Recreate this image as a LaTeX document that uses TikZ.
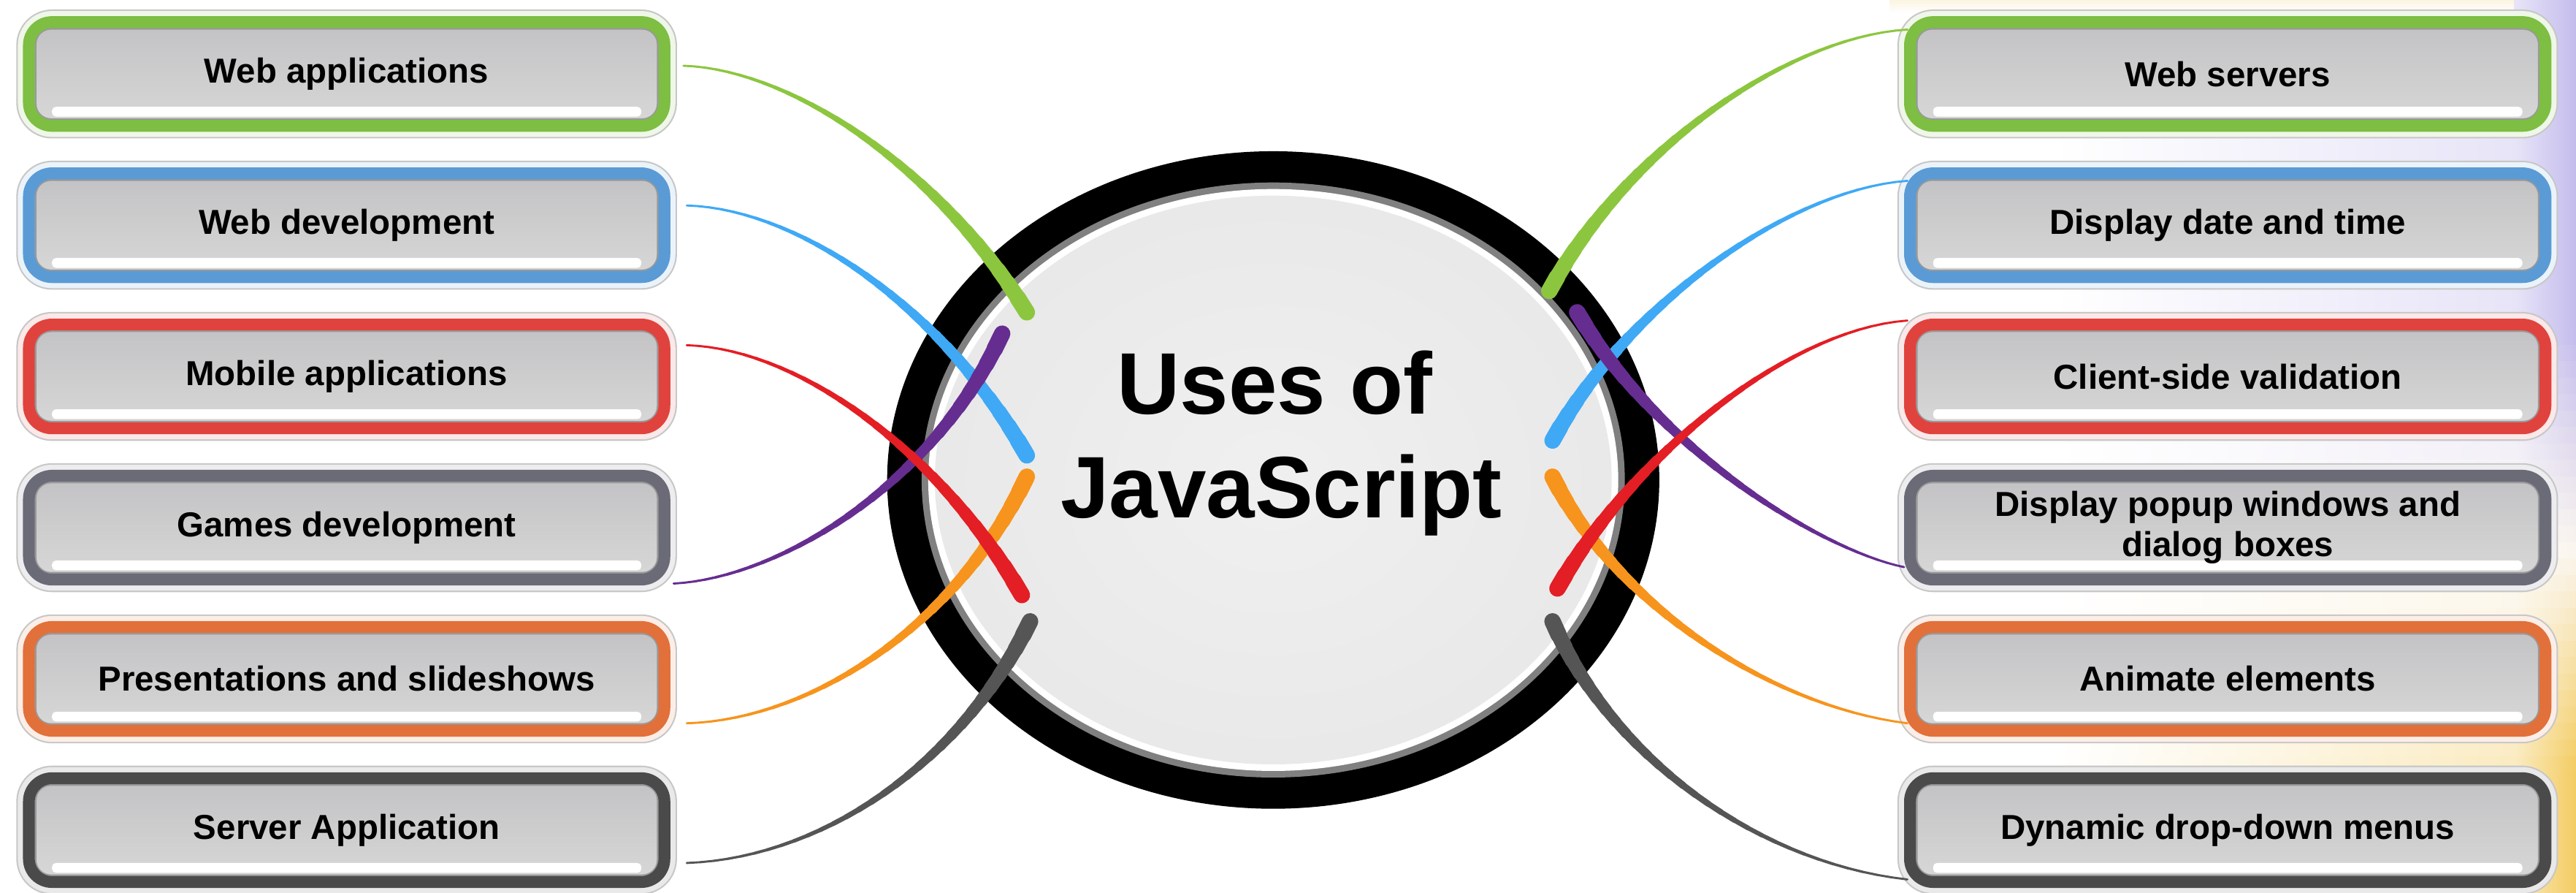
\documentclass[tikz,border=0pt]{standalone}
\usepackage{fontspec}
\setmainfont{Liberation Sans}
\usetikzlibrary{calc}
\definecolor{cgreen}{HTML}{7DBE43}
\definecolor{cblue}{HTML}{5A9BD5}
\definecolor{cred}{HTML}{E0433D}
\definecolor{cslate}{HTML}{6A6B77}
\definecolor{corange}{HTML}{E2703A}
\definecolor{cdark}{HTML}{4A4A4A}
\definecolor{lgreen}{HTML}{8CC63F}
\definecolor{lblue}{HTML}{3FA9F5}
\definecolor{lred}{HTML}{E31E24}
\definecolor{lpurple}{HTML}{662D91}
\definecolor{lorange}{HTML}{F7941D}
\definecolor{ldark}{HTML}{555555}
\definecolor{boxtop}{HTML}{C2C2C4}
\definecolor{boxbot}{HTML}{D8D8D8}
\definecolor{bglav}{RGB}{196,188,236}
\definecolor{bgpale}{RGB}{250,245,238}
\definecolor{bggold}{RGB}{243,204,98}
\newcommand{\boxfont}{\fontsize{13.5}{15.5}\selectfont\bfseries}
\pgfdeclareradialshading{hubshade}{\pgfpoint{0bp}{0bp}}{color(0bp)=(black!6); color(28bp)=(black!9); color(42bp)=(black!18); color(48bp)=(black!30); color(50bp)=(black!38)}
\newcommand{\taperline}[5]{%
  \path #2 .. controls #3 and #4 .. #5
    \foreach \k [evaluate=\k as \pp using \k/30] in {0,...,30}{ coordinate[pos=\pp] (tq\k) };
  \foreach \k [evaluate=\k as \ww using 0.8+5.6*(\k/30)^1.8, evaluate=\k as \km using int(\k-1)] in {1,...,30}{
    \draw[draw=#1, line width=\ww pt, line cap=round] (tq\km) -- (tq\k);
  }%
}
\tikzset{
  ubox/.style={rectangle, rounded corners=9pt, draw=#1, line width=4.6pt,
    minimum width=8.70cm, minimum height=1.42cm, inner sep=0pt,
    top color=boxtop, bottom color=boxbot,
    preaction={draw=black!22, line width=9.8pt},
    preaction={draw=#1!12, line width=8.6pt},
    path picture={
      \fill[white, rounded corners=1.5pt]
        ($(path picture bounding box.south west)+(9pt,3.6pt)$) rectangle
        ($(path picture bounding box.south east)+(-9pt,7.4pt)$);
      \draw[black!40, line width=0.7pt, rounded corners=6pt]
        ($(path picture bounding box.south west)+(2.6pt,2.6pt)$) rectangle
        ($(path picture bounding box.north east)+(-2.6pt,-2.6pt)$);
    },
    font=\boxfont, align=center, text=black},
  hubtext/.style={font=\fontsize{34}{38}\selectfont\bfseries, anchor=base, inner sep=0pt}
}
\begin{document}
\begin{tikzpicture}[x=0.022494cm, y=-0.022494cm]
\useasboundingbox (0,0) rectangle (1568,543);
\clip (0,0) rectangle (1568,543);
\fill[white] (0,0) rectangle (1568,543);
% soft background tint at the right edge
\foreach \i in {0,...,54}{
  \pgfmathsetmacro{\yy}{\i*10}
  \pgfmathtruncatemacro{\pl}{max(0,min(100,(330-\yy)/1.3))}
  \pgfmathtruncatemacro{\pg}{max(0,min(100,(\yy-330)/1.3))}
  \colorlet{bandA}{bglav!\pl!bgpale}
  \colorlet{bandB}{bggold!\pg!bandA}
  \shade[left color=white, right color=bandB!40] (1250,\yy) rectangle (1532,\yy+10.6);
  \shade[left color=bandB!40, right color=bandB] (1531,\yy) rectangle (1568,\yy+10.6);
}
\shade[top color=bgpale!60!bggold!40, bottom color=white] (1150,0) rectangle (1530,8);

% left boxes
\node[ubox=cgreen]  (l1) at (211,45)  {Web applications};
\node[ubox=cblue]   (l2) at (211,137) {Web development};
\node[ubox=cred]    (l3) at (211,229) {Mobile applications};
\node[ubox=cslate]  (l4) at (211,321) {Games development};
\node[ubox=corange] (l5) at (211,413) {Presentations and slideshows};
\node[ubox=cdark]   (l6) at (211,505) {Server Application};
% right boxes
\node[ubox=cgreen]  (r1) at (1356,45)  {Web servers};
\node[ubox=cblue]   (r2) at (1356,137) {Display date and time};
\node[ubox=cred]    (r3) at (1356,229) {Client-side validation};
\node[ubox=cslate]  (r4) at (1356,321) {Display popup windows and\\dialog boxes};
\node[ubox=corange] (r5) at (1356,413) {Animate elements};
\node[ubox=cdark]   (r6) at (1356,505) {Dynamic drop-down menus};

% hub
\coordinate (hub) at (775,292);
\fill[black] (hub) ellipse [x radius=235, y radius=200];
\fill[black!50] (hub) ellipse [x radius=214, y radius=181];
\fill[white] (hub) ellipse [x radius=210, y radius=177];
\shade[shading=hubshade] (hub) ellipse [x radius=206, y radius=173];

% connector ends inside the hub
\coordinate (gL) at (625,190);
\coordinate (bL) at (625,277);
\coordinate (rL) at (622,362);
\coordinate (pL) at (610,203);
\coordinate (oL) at (625,290);
\coordinate (kL) at (627,378);
\coordinate (gR) at (943,177);
\coordinate (bR) at (945,268);
\coordinate (rR) at (948,358);
\coordinate (pR) at (960,190);
\coordinate (oR) at (945,290);
\coordinate (kR) at (945,378);

% left connectors
\taperline{lgreen}{($(l1.east)+(8,-5)$)}{(480,42)}{(570,100)}{(gL)}
\taperline{lblue}{($(l2.east)+(10,-12)$)}{(485,127)}{(572,185)}{(bL)}
\taperline{lorange}{($(l5.east)+(10,27)$)}{(490,438)}{(580,385)}{(oL)}
\taperline{lpurple}{($(l4.east)+(2,34)$)}{(470,352)}{(565,300)}{(pL)}
\taperline{lred}{($(l3.east)+(10,-19)$)}{(485,212)}{(570,272)}{(rL)}
\taperline{ldark}{($(l6.east)+(10,20)$)}{(500,522)}{(585,465)}{(kL)}
% right connectors
\taperline{lgreen}{($(r1.west)+(2,-27)$)}{(1090,22)}{(990,90)}{(gR)}
\taperline{lblue}{($(r2.west)+(2,-27)$)}{(1090,115)}{(990,185)}{(bR)}
\taperline{lorange}{($(r5.west)+(2,27)$)}{(1080,430)}{(985,370)}{(oR)}
\taperline{lpurple}{($(r4.west)+(0,24)$)}{(1110,335)}{(1010,275)}{(pR)}
\taperline{lred}{($(r3.west)+(2,-34)$)}{(1090,200)}{(995,275)}{(rR)}
\taperline{ldark}{($(r6.west)+(2,30)$)}{(1070,525)}{(980,460)}{(kR)}

% title
\node[hubtext] (t1) at (776,252) {Uses of};
\node[hubtext] (t2) at (780,315) {JavaScript};
\end{tikzpicture}
\end{document}
